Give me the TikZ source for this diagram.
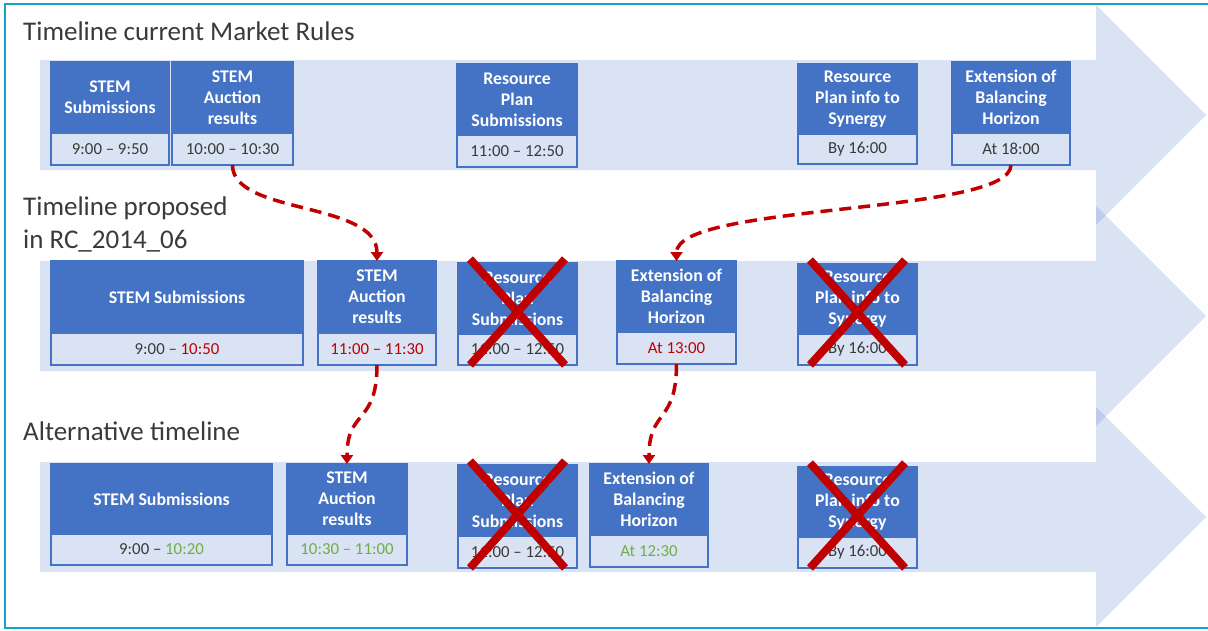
\documentclass[tikz,border=0pt]{standalone}
\usepackage{fontspec}
\setmainfont{Carlito}
\usetikzlibrary{positioning,arrows.meta}
\definecolor{boxblue}{HTML}{4472C4}
\definecolor{bandfill}{HTML}{DAE3F3}
\definecolor{xred}{HTML}{C00000}
\definecolor{okgreen}{HTML}{70AD47}
\definecolor{txtgray}{HTML}{3A3A3A}
\definecolor{framecyan}{HTML}{12A3C8}
\begin{document}
\begin{tikzpicture}[x=1pt,y=-1pt,
	band/.style={fill=boxblue,fill opacity=.2},
	head/.style={anchor=north west,fill=boxblue,draw=boxblue,line width=1.2pt,text=white,align=center,
		font=\fontsize{17.8}{21}\selectfont\bfseries,minimum height=71pt,inner sep=0pt,outer sep=0pt},
	slot/.style={fill=bandfill,draw=boxblue,line width=1.2pt,text=txtgray,
		font=\fontsize{16.8}{20}\selectfont,minimum height=32pt,inner sep=0pt,outer sep=0pt},
	title/.style={anchor=base west,text=txtgray,font=\fontsize{27}{33}\selectfont,align=left,inner sep=0pt},
	xout/.style={draw=xred,line width=8pt},
	jump/.style={draw=xred,line width=3.5pt,dash pattern=on 12pt off 7pt,-{Triangle[width=12pt,length=9pt]}}]
	\useasboundingbox (0,0) rectangle (1208,630);
	\draw[framecyan,line width=2pt] (1212,4) -- (5,4) -- (5,628) -- (1212,628);
	% the three timeline arrows
	\foreach \c in {115,316,517}
		\fill[band] (40,\c-55) -- (1096,\c-55) -- (1096,\c-110) -- (1206,\c)
			-- (1096,\c+110) -- (1096,\c+55) -- (40,\c+55) -- cycle;
	\node[title] (t-cur) at (23,40) {Timeline current Market Rules};
	\node[title] (t-prop) at (23,248) {Timeline proposed\\in RC\_2014\_06};
	\node[title] (t-alt) at (23,440) {Alternative timeline};

	% current market rules
	\node[head,minimum width=118pt] (c-sub) at (51,62) {STEM\\Submissions};
	\node[slot,minimum width=118pt,below=0pt of c-sub] (c-sub-t) {9:00 -- 9:50};
	\node[head,minimum width=121pt] (c-auc) at (172,62) {STEM\\Auction\\results};
	\node[slot,minimum width=121pt,below=0pt of c-auc] (c-auc-t) {10:00 -- 10:30};
	\node[head,minimum width=120pt] (c-rps) at (457,64) {Resource\\Plan\\Submissions};
	\node[slot,minimum width=120pt,below=0pt of c-rps] (c-rps-t) {11:00 -- 12:50};
	\node[head,minimum width=119pt,minimum height=70pt] (c-rpi) at (798,64) {Resource\\Plan info to\\Synergy};
	\node[slot,minimum width=119pt,minimum height=30pt,below=0pt of c-rpi] (c-rpi-t) {By 16:00};
	\node[head,minimum width=118pt] (c-ext) at (952,62) {Extension of\\Balancing\\Horizon};
	\node[slot,minimum width=118pt,below=0pt of c-ext] (c-ext-t) {At 18:00};

	% proposed in RC_2014_06
	\node[head,minimum width=252pt,minimum height=72pt] (p-sub) at (51,261) {STEM Submissions};
	\node[slot,minimum width=252pt,below=0pt of p-sub] (p-sub-t) {9:00 -- \textcolor{xred}{10:50}};
	\node[head,minimum width=118pt,minimum height=72pt] (p-auc) at (318,261) {STEM\\Auction\\results};
	\node[slot,minimum width=118pt,below=0pt of p-auc] (p-auc-t) {\textcolor{xred}{11:00 -- 11:30}};
	\node[head,minimum width=119pt] (p-rps) at (458,263) {Resource\\Plan\\Submissions};
	\node[slot,minimum width=119pt,minimum height=31pt,below=0pt of p-rps] (p-rps-t) {11:00 -- 12:50};
	\node[head,minimum width=119pt] (p-ext) at (617,261) {Extension of\\Balancing\\Horizon};
	\node[slot,minimum width=119pt,below=0pt of p-ext] (p-ext-t) {\textcolor{xred}{At 13:00}};
	\node[head,minimum width=119pt,minimum height=70pt] (p-rpi) at (798,264) {Resource\\Plan info to\\Synergy};
	\node[slot,minimum width=119pt,minimum height=31pt,below=0pt of p-rpi] (p-rpi-t) {By 16:00};

	% alternative
	\node[head,minimum width=221pt,minimum height=70pt] (a-sub) at (51,464) {STEM Submissions};
	\node[slot,minimum width=221pt,minimum height=31pt,below=0pt of a-sub] (a-sub-t) {9:00 -- \textcolor{okgreen}{10:20}};
	\node[head,minimum width=120pt,minimum height=70pt] (a-auc) at (287,464) {STEM\\Auction\\results};
	\node[slot,minimum width=120pt,minimum height=31pt,below=0pt of a-auc] (a-auc-t) {\textcolor{okgreen}{10:30 -- 11:00}};
	\node[head,minimum width=119pt] (a-rps) at (458,465) {Resource\\Plan\\Submissions};
	\node[slot,minimum width=119pt,below=0pt of a-rps] (a-rps-t) {11:00 -- 12:50};
	\node[head,minimum width=118pt] (a-ext) at (590,464) {Extension of\\Balancing\\Horizon};
	\node[slot,minimum width=118pt,below=0pt of a-ext] (a-ext-t) {\textcolor{okgreen}{At 12:30}};
	\node[head,minimum width=119pt,minimum height=70pt] (a-rpi) at (798,467) {Resource\\Plan info to\\Synergy};
	\node[slot,minimum width=119pt,minimum height=31pt,below=0pt of a-rpi] (a-rpi-t) {By 16:00};

	% dropped steps
	\foreach \b in {p-rps,p-rpi,a-rps,a-rpi}
		\draw[xout] ([xshift=12pt,yshift=4pt]\b.north west) -- ([xshift=-12pt]\b-t.south east)
			([xshift=-12pt,yshift=4pt]\b.north east) -- ([xshift=12pt]\b-t.south west);

	% moved steps
	\draw[jump] (c-auc-t.south) .. controls +(0,50) and +(0,-60) .. (p-auc.north);
	\draw[jump] (c-ext-t.south) .. controls +(0,50) and +(0,-58) .. (p-ext.north);
	\draw[jump] (p-auc-t.south) .. controls +(0,60) and +(0,-55) .. (a-auc.north);
	\draw[jump] (p-ext-t.south) .. controls +(0,60) and +(0,-55) .. (a-ext.north);
\end{tikzpicture}
\end{document}
